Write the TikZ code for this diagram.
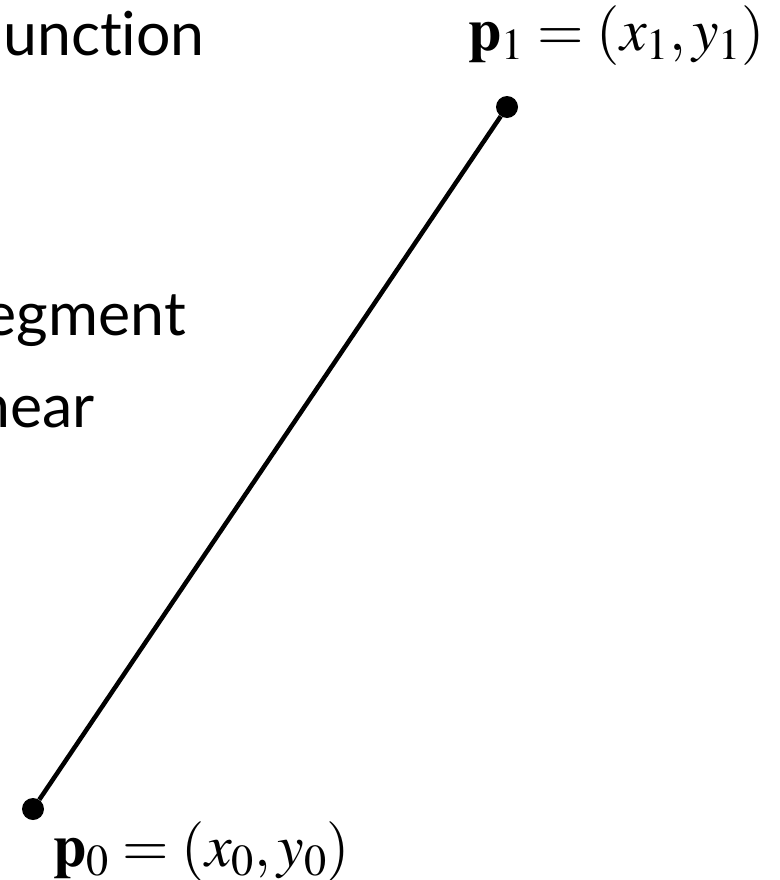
\documentclass[tikz,border=0pt]{standalone}
\usepackage{mathptmx}
\usepackage[no-math]{fontspec}
\newfontfamily\wordfont[Ligatures=NoCommon]{Lato}
\usetikzlibrary{positioning}

\begin{document}
\begin{tikzpicture}[x=1bp, y=-1bp, every node/.style={inner sep=0pt}]
    % Styles
    \tikzstyle{word} = [anchor=base east, font=\wordfont\fontsize{61}{70}\selectfont]
    \tikzstyle{coord} = [anchor=base, font=\fontsize{60}{70}\selectfont]
    \tikzstyle{endpoint} = [circle, fill=black, minimum size=22bp]

    % Frame
    \useasboundingbox (0,0) rectangle (780,880);
    \clip (0,0) rectangle (780,880);

    % Cut-off words on the left
    \node[word] (func) at (205,55) {unction};
    \node[word] (seg) at (186,335) {egment};
    \node[word] (lin) at (95,427) {near};

    % End points
    \node[endpoint] (p0) at (33,809) {};
    \node[endpoint] (p1) at (507,107) {};
    \draw[line width=4.5bp] (p0) -- (p1);

    % Labels
    \node[coord, anchor=base east] (p1lbl) at (765,50) {$\mathbf{p}_1 = (x_1, y_1)$};
    \node[coord, anchor=base west] (p0lbl) at (53,866) {$\mathbf{p}_0 = (x_0, y_0)$};
\end{tikzpicture}
\end{document}
